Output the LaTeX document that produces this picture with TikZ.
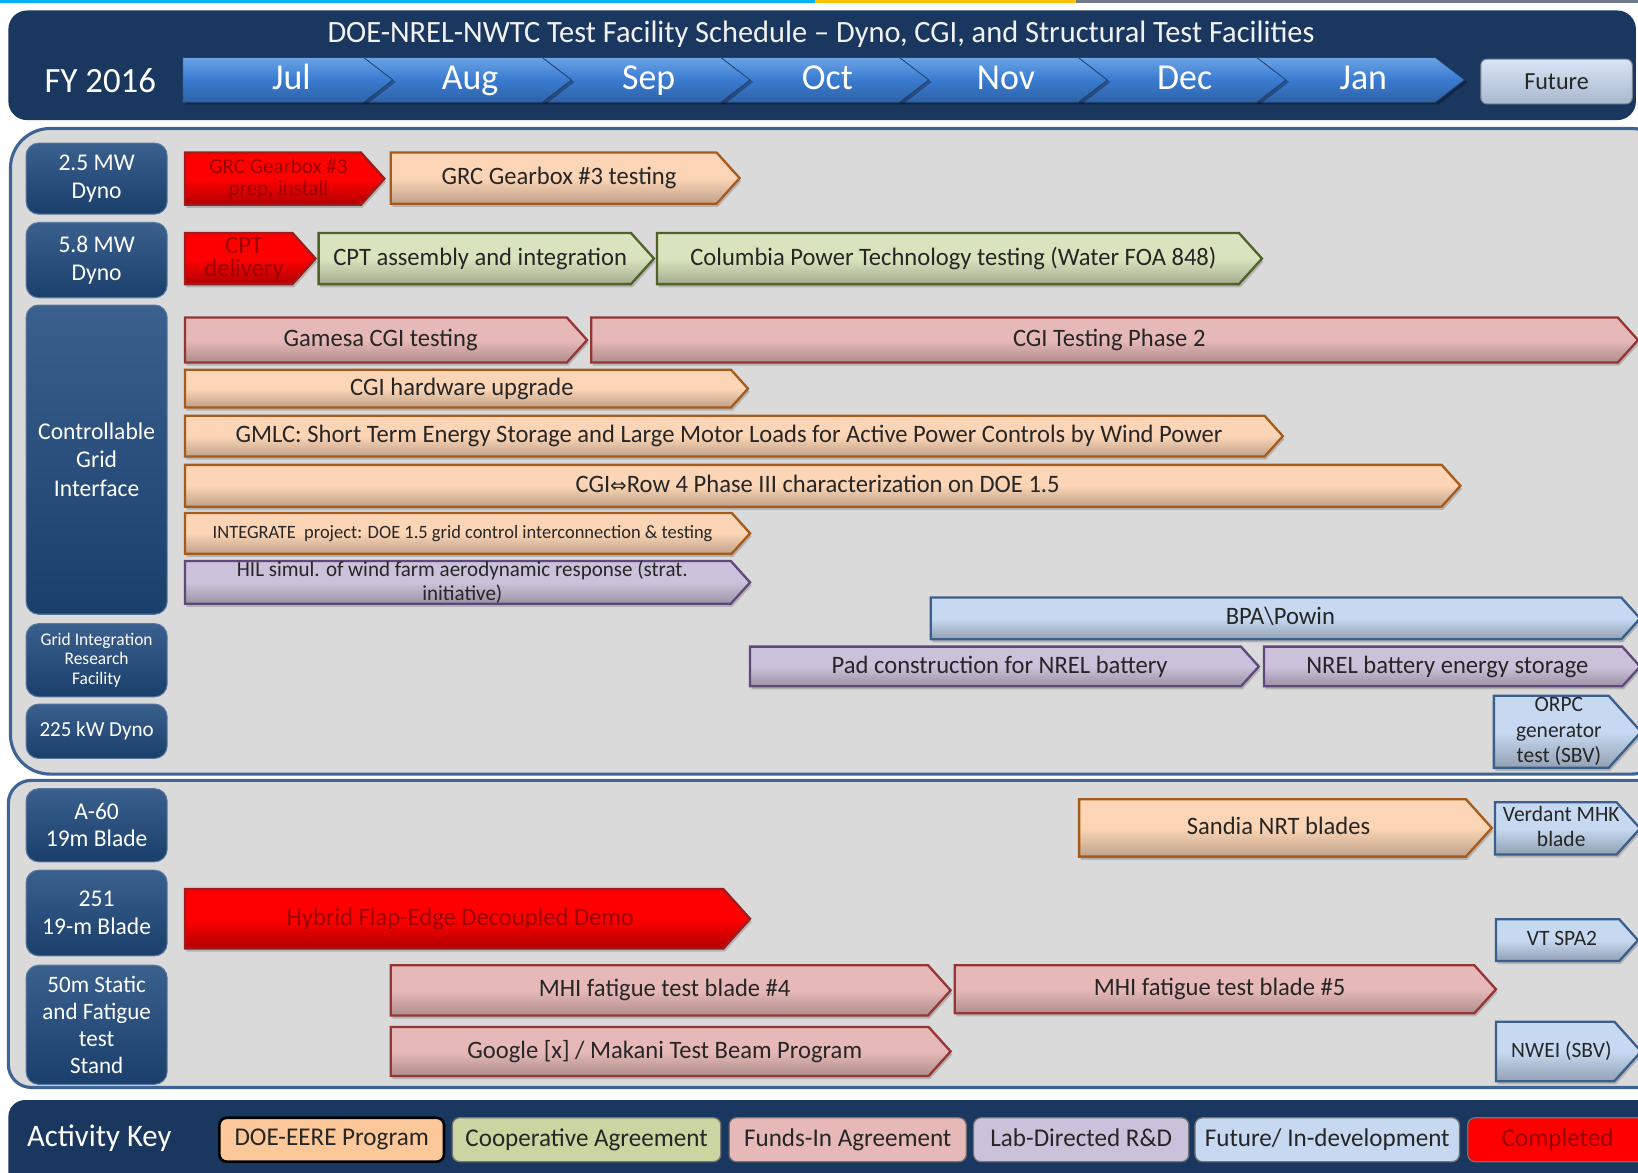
\documentclass[tikz,border=0pt]{standalone}
\usepackage{fontspec}
\setmainfont{Carlito}[FakeStretch=0.98]
\newfontfamily\symfont{DejaVu Sans}
\usetikzlibrary{calc}

\definecolor{navy}{HTML}{1A3760}
\definecolor{catblue}{HTML}{1F4A7E}
\definecolor{panelgrey}{HTML}{DADADA}
\definecolor{panelrim}{HTML}{3E6494}
\definecolor{monthblue}{HTML}{3A7BD0}
\definecolor{monthtop}{HTML}{6AA3E6}
\definecolor{peach}{HTML}{FBD5B5}
\definecolor{peachrim}{HTML}{A65A1C}
\definecolor{sage}{HTML}{D7E4BD}
\definecolor{sagerim}{HTML}{4F6228}
\definecolor{rose}{HTML}{E6B9B8}
\definecolor{roserim}{HTML}{943634}
\definecolor{lilac}{HTML}{CCC1DA}
\definecolor{lilacrim}{HTML}{5F497A}
\definecolor{sky}{HTML}{C6D9F1}
\definecolor{skyrim}{HTML}{3B5F8D}
\definecolor{donefill}{HTML}{FF0000}
\definecolor{donerim}{HTML}{9A1E1E}
\definecolor{donetext}{HTML}{990000}
\definecolor{ink}{HTML}{262626}
\definecolor{stripblue}{HTML}{00B0F0}
\definecolor{stripyellow}{HTML}{FFC000}
\definecolor{stripgrey}{HTML}{6E7B8B}

% activity bar: flat left end, pointed right end
\newcommand\taskbar[8][]{%
  \path[#7] (#3,#4) -- ({#5-0.45*(#6-#4)},#4) -- (#5,{(#4+#6)/2})
        -- ({#5-0.45*(#6-#4)},#6) -- (#3,#6) -- cycle;
  \node[#7 text,#1] (#2) at ({(#3+#5)/2-0.12*(#6-#4)},{(#4+#6)/2}) {#8};}

\begin{document}
\begin{tikzpicture}[x=1pt,y=-1pt,
  bar/.style={line width=2.2pt, line join=miter,
    preaction={fill=black, fill opacity=0.18, transform canvas={xshift=1.5pt,yshift=-3pt}}},
  bartext/.style={text=ink, align=center, inner sep=0pt, font=\fontsize{24}{27}\selectfont,
    execute at begin node=\vphantom{Hg}},
  doe/.style={bar, draw=peachrim, top color=peach, bottom color=peach!76!black, middle color=peach},
  coop/.style={bar, draw=sagerim, top color=sage, bottom color=sage!76!black, middle color=sage},
  funds/.style={bar, draw=roserim, top color=rose, bottom color=rose!76!black, middle color=rose},
  lab/.style={bar, draw=lilacrim, top color=lilac, bottom color=lilac!76!black, middle color=lilac},
  future/.style={bar, draw=skyrim, top color=sky, bottom color=sky!74!black, middle color=sky},
  done/.style={bar, draw=donerim, top color=donefill, bottom color=donefill!70!black, middle color=donefill},
  doe text/.style={bartext},
  coop text/.style={bartext},
  funds text/.style={bartext},
  lab text/.style={bartext},
  future text/.style={bartext},
  done text/.style={bartext, text=donetext},
  catbox/.style={rounded corners=12pt, top color=catblue!88!white, bottom color=catblue!85!black,
    draw=catblue!75!white, line width=1pt, minimum width=135pt, text=white, align=center,
    inner sep=0pt, font=\fontsize{23}{27}\selectfont},
  monthseg/.style={top color=monthtop, bottom color=monthblue!80!black, middle color=monthblue,
    draw=monthblue!55!black, line width=0.8pt,
    preaction={fill=black, fill opacity=0.3, transform canvas={xshift=3pt,yshift=-2pt}}},
  monthlabel/.style={text=white, inner sep=0pt, anchor=base, font=\fontsize{35}{40}\selectfont},
  panel/.style={fill=panelgrey, draw=panelrim, line width=3pt},
  keybox/.style={rounded corners=7pt, minimum height=42pt, inner sep=0pt, text=ink,
    draw=black!55, line width=1.2pt, font=\fontsize{24.5}{26}\selectfont,
    execute at begin node=\vphantom{Hg}}
]
\useasboundingbox (0,0) rectangle (1568,1122);
\clip (0,0) rectangle (1568,1122);
\fill[white] (0,0) rectangle (1568,1122);

% coloured strip along the top edge
\fill[stripblue] (0,0) rectangle (780,3);
\fill[stripyellow] (780,0) rectangle (1030,3);
\fill[stripgrey] (1030,0) rectangle (1568,3);

% ---------------- header ----------------
\fill[navy, rounded corners=18pt] (8,10) rectangle (1566,115);
\node[text=white!95!black, inner sep=0pt, font=\fontsize{29.7}{34}\selectfont] (title) at (786,33)
  {DOE-NREL-NWTC Test Facility Schedule -- Dyno, CGI, and Structural Test Facilities};
\node[text=white, inner sep=0pt, font=\fontsize{34}{38}\selectfont] (fy) at (96,77) {FY 2016};
\foreach \k/\m in {6/Jan,5/Dec,4/Nov,3/Oct,2/Sep,1/Aug,0/Jul}{
  \pgfmathsetmacro\R{348+171*\k}
  \pgfmathsetmacro\L{175+171*\k}
  \path[monthseg] (\L,55) -- (\R,55) -- ({\R+28},76.5) -- (\R,98) -- (\L,98) -- cycle;
  \node[monthlabel] (m\k) at ({279+171*\k},86) {\m};
}
\node[rounded corners=6pt, top color=sky!70!white, bottom color=sky!85!black, draw=sky!60!black,
  line width=1pt, minimum width=145pt, minimum height=43pt, inner sep=0pt, text=ink,
  font=\fontsize{23.5}{26}\selectfont] (future) at (1490,78) {Future};

% ---------------- panels ----------------
\draw[panel, rounded corners=38pt] (10,123) rectangle (1600,741);
\draw[panel, rounded corners=22pt] (8,747) rectangle (1600,1041);
\fill[navy, rounded corners=16pt] (8,1053) rectangle (1600,1160);

% ---------------- facility labels ----------------
\node[catbox, minimum height=68pt]  (c25)  at (92.5,171) {2.5 MW\\Dyno};
\node[catbox, minimum height=72pt]  (c58)  at (92.5,249) {5.8 MW\\Dyno};
\node[catbox, minimum height=296pt] (ccgi) at (92.5,440) {Controllable\\Grid\\Interface};
\node[catbox, minimum height=70pt, font=\fontsize{17}{19}\selectfont] (cgirf) at (92.5,632)
  {Grid Integration\\Research\\Facility};
\node[catbox, minimum height=52pt, font=\fontsize{20.5}{24}\selectfont] (c225) at (92.5,700) {225 kW Dyno};
\node[catbox, minimum height=70pt, font=\fontsize{23}{26}\selectfont] (ca60) at (92.5,790) {A-60\\19m Blade};
\node[catbox, minimum height=82pt]  (c251) at (92.5,874) {251\\19-m Blade};
\node[catbox, minimum height=114pt, font=\fontsize{22.5}{25.7}\selectfont] (c50m) at (92.5,981)
  {50m Static\\and Fatigue\\test\\Stand};

% ---------------- activities ----------------
\taskbar[font=\fontsize{20.5}{21}\selectfont]{grcprep}{177}{146}{368}{196}{done}{GRC Gearbox \#3\\prep, install}
\taskbar{grctest}{374}{146}{708}{195}{doe}{GRC Gearbox \#3 testing}
\taskbar[font=\fontsize{24}{22}\selectfont]{cptdel}{177}{223}{302}{272}{done}{CPT\\delivery}
\taskbar{cptasm}{305}{223}{626}{272}{coop}{CPT assembly and integration}
\taskbar{cpttest}{629}{223}{1208}{272}{coop}{Columbia Power Technology testing (Water FOA 848)}
\taskbar{gamesa}{177}{304}{562}{347}{funds}{Gamesa CGI testing}
\taskbar{cgiph2}{566}{304}{1568}{347}{funds}{CGI Testing Phase 2}
\taskbar{cgihw}{177}{354}{716}{390}{doe}{CGI hardware upgrade}
\taskbar{gmlc}{177}{398}{1228}{437}{doe}{GMLC: Short Term Energy Storage and Large Motor Loads for Active Power Controls by Wind Power}
\taskbar{row4}{177}{445}{1398}{485}{doe}{CGI{\symfont\fontsize{19}{20}\selectfont ⇔}Row 4 Phase III characterization on DOE 1.5}
\taskbar[font=\fontsize{18}{20}\selectfont]{integ}{177}{491}{718}{530}{doe}{INTEGRATE\ \ project: DOE 1.5 grid control interconnection \& testing}
\taskbar[font=\fontsize{20.5}{23}\selectfont]{hil}{177}{537}{718}{578}{lab}{HIL simul. of wind farm aerodynamic response (strat.\\initiative)}
\taskbar{bpa}{891}{572}{1570}{612}{future}{BPA\textbackslash Powin}
\taskbar{pad}{718}{619}{1205}{657}{lab}{Pad construction for NREL battery}
\taskbar{nrelbat}{1210}{619}{1570}{657}{lab}{NREL battery energy storage}
\taskbar[font=\fontsize{21}{24}\selectfont]{orpc}{1430}{666}{1571}{735}{future}{ORPC\\generator\\test (SBV)}
\taskbar{sandia}{1033}{765}{1428}{820}{doe}{Sandia NRT blades}
\taskbar[font=\fontsize{21}{24}\selectfont]{verdant}{1431}{768}{1570}{818}{future}{Verdant MHK\\blade}
\taskbar{hybrid}{177}{851}{718}{908}{done}{Hybrid Flap-Edge Decoupled Demo}
\taskbar[font=\fontsize{21}{24}\selectfont]{vtspa}{1432}{880}{1568}{920}{future}{VT SPA2}
\taskbar{mhi4}{374}{924}{910}{972}{funds}{MHI fatigue test blade \#4}
\taskbar{mhi5}{914}{924}{1432}{970}{funds}{MHI fatigue test blade \#5}
\taskbar{google}{374}{983}{910}{1030}{funds}{Google [x] / Makani Test Beam Program}
\taskbar[font=\fontsize{21}{24}\selectfont]{nwei}{1432}{978}{1571}{1035}{future}{NWEI (SBV)}

% ---------------- activity key ----------------
\node[text=white, inner sep=0pt, font=\fontsize{30}{32}\selectfont] (keytitle) at (95,1090) {Activity Key};
\node[keybox, fill=peach!85!orange, draw=black, line width=2.5pt, minimum width=215pt] (kdoe) at (317.5,1091) {DOE-EERE Program};
\node[keybox, fill=sage!85!olive, minimum width=257pt] (kcoop) at (561.5,1091) {Cooperative Agreement};
\node[keybox, fill=rose, minimum width=227pt] (kfunds) at (811.5,1091) {Funds-In Agreement};
\node[keybox, fill=lilac, minimum width=206pt] (klab) at (1035,1091) {Lab-Directed R\&D};
\node[keybox, fill=sky, minimum width=253pt] (kfuture) at (1270.5,1091) {Future/ In-development};
\node[keybox, fill=donefill, text=donetext, minimum width=172pt] (kdone) at (1491,1091) {Completed};
\end{tikzpicture}
\end{document}
